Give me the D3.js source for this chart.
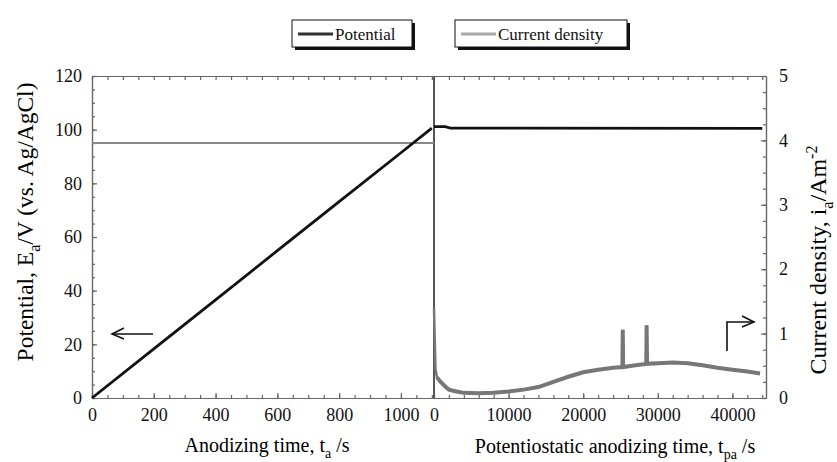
<!DOCTYPE html>
<html>
<head>
<meta charset="utf-8">
<script src="https://cdn.jsdelivr.net/npm/d3@7"></script>
<style>
  body { margin: 0; background: #fff; }
</style>
</head>
<body>
<script>
// galvanostatic part: time (s) vs potential (V) and current density (A/m2)
const galvPotential = [[0, 0], [200, 18.3], [400, 36.6], [600, 54.9], [800, 73.2], [1000, 91.4], [1100, 100.6]];
const galvCurrent = [[0, 3.96], [1107, 3.96]];

// potentiostatic part
const potPotential = [[0, 101.1], [1500, 101.1], [2200, 100.6], [44000, 100.5]];
const potCurrent = [[0, 1.4], [100, 0.9], [200, 0.45], [400, 0.32], [800, 0.26], [1500, 0.18], [2000, 0.13],
  [3000, 0.1], [4000, 0.08], [6000, 0.075], [8000, 0.08], [10000, 0.1], [12000, 0.13], [14000, 0.17],
  [16000, 0.25], [18000, 0.33], [20000, 0.4], [22000, 0.44], [24000, 0.47], [25250, 0.48], [25300, 1.06],
  [25350, 0.48], [27000, 0.51], [28450, 0.53], [28500, 1.13], [28550, 0.53], [30000, 0.54], [32000, 0.55],
  [34000, 0.54], [36000, 0.51], [38000, 0.47], [40000, 0.44], [42000, 0.41], [43700, 0.38]];

const leftXTicks = [0, 200, 400, 600, 800, 1000];
const rightXTicks = [0, 10000, 20000, 30000, 40000];
const potTicks = [0, 20, 40, 60, 80, 100, 120];
const curTicks = [0, 1, 2, 3, 4, 5];

const FONT = "Liberation Serif";

function main() {
  const W = 837, H = 462;
  const left = 92, mid = 434, right = 766, top = 76, bottom = 398;

  const svg = d3.select("body").append("svg")
    .attr("width", W).attr("height", H)
    .attr("font-family", FONT);

  const xa = d3.scaleLinear().domain([0, 1107]).range([left, mid]);
  const xb = d3.scaleLinear().domain([0, 44500]).range([mid, right]);
  const yV = d3.scaleLinear().domain([0, 120]).range([bottom, top]);
  const yI = d3.scaleLinear().domain([0, 5]).range([bottom, top]);

  const axisColor = "#666";
  const fmt = d3.format("d");
  function style(g) {
    g.attr("font-family", FONT);
    g.select(".domain").attr("stroke", axisColor).attr("stroke-width", 1.2);
    g.selectAll(".tick line").attr("stroke", axisColor).attr("stroke-width", 1.2);
    g.selectAll(".tick text").attr("font-size", 18).attr("fill", "#111").attr("font-family", FONT);
  }

  // bottom axes
  svg.append("g").attr("transform", `translate(0,${bottom})`)
    .call(d3.axisBottom(xa).tickValues(d3.range(0, 1101, 50)).tickFormat("").tickSize(-3).tickSizeOuter(0)).call(style);
  svg.append("g").attr("transform", `translate(0,${bottom})`)
    .call(d3.axisBottom(xa).tickValues(leftXTicks).tickFormat(fmt).tickSize(-5).tickSizeOuter(0).tickPadding(10)).call(style);
  svg.append("g").attr("transform", `translate(0,${bottom})`)
    .call(d3.axisBottom(xb).tickValues(d3.range(0, 44001, 2000)).tickFormat("").tickSize(-3).tickSizeOuter(0)).call(style);
  svg.append("g").attr("transform", `translate(0,${bottom})`)
    .call(d3.axisBottom(xb).tickValues(rightXTicks).tickFormat(fmt).tickSize(-5).tickSizeOuter(0).tickPadding(10)).call(style);

  // top axes
  svg.append("g").attr("transform", `translate(0,${top})`)
    .call(d3.axisTop(xa).tickValues(d3.range(0, 1101, 50)).tickFormat("").tickSize(-4).tickSizeOuter(0)).call(style);
  svg.append("g").attr("transform", `translate(0,${top})`)
    .call(d3.axisTop(xb).tickValues(d3.range(0, 44001, 2000)).tickFormat("").tickSize(-4).tickSizeOuter(0)).call(style);

  // left axis
  svg.append("g").attr("transform", `translate(${left},0)`)
    .call(d3.axisLeft(yV).tickValues(d3.range(0, 121, 5)).tickFormat("").tickSize(-3).tickSizeOuter(0)).call(style);
  svg.append("g").attr("transform", `translate(${left},0)`)
    .call(d3.axisLeft(yV).tickValues(potTicks).tickFormat(fmt).tickSize(-5).tickSizeOuter(0).tickPadding(10)).call(style);

  // right axis
  svg.append("g").attr("transform", `translate(${right},0)`)
    .call(d3.axisRight(yI).tickValues(d3.range(0, 5.01, 0.25)).tickFormat("").tickSize(-3).tickSizeOuter(0)).call(style);
  svg.append("g").attr("transform", `translate(${right},0)`)
    .call(d3.axisRight(yI).tickValues(curTicks).tickFormat(fmt).tickSize(-5).tickSizeOuter(0).tickPadding(13)).call(style);

  // divider between both parts
  svg.append("line")
    .attr("x1", mid).attr("x2", mid).attr("y1", top).attr("y2", bottom)
    .attr("stroke", "#555").attr("stroke-width", 2);

  const lineV = sx => d3.line().x(d => sx(d[0])).y(d => yV(d[1]));
  const lineI = sx => d3.line().x(d => sx(d[0])).y(d => yI(d[1]));

  svg.append("path").datum(galvCurrent).attr("d", lineI(xa))
    .attr("fill", "none").attr("stroke", "#888").attr("stroke-width", 2);
  svg.append("path").datum(potCurrent).attr("d", lineI(xb))
    .attr("fill", "none").attr("stroke", "#777").attr("stroke-width", 2.5);
  svg.append("path").datum(potCurrent.filter(d => d[0] >= 400)).attr("d", lineI(xb))
    .attr("fill", "none").attr("stroke", "#777").attr("stroke-width", 4);

  svg.append("path").datum(galvPotential).attr("d", lineV(xa))
    .attr("fill", "none").attr("stroke", "#111").attr("stroke-width", 2.8);
  svg.append("path").datum(potPotential).attr("d", lineV(xb))
    .attr("fill", "none").attr("stroke", "#111").attr("stroke-width", 2.8);

  // arrows
  const arrow = svg.append("g").attr("stroke", "#111").attr("stroke-width", 1.6).attr("fill", "none");
  arrow.append("line").attr("x1", 112).attr("x2", 153).attr("y1", 334).attr("y2", 334);
  arrow.append("path").attr("d", "M124,328 L112,334 L124,339");
  arrow.append("path").attr("d", "M727,351 L727,322 L754,322");
  arrow.append("path").attr("d", "M742,316 L754,322 L742,327");

  // axis titles
  const bt = svg.append("text").attr("x", 267).attr("y", 452).attr("text-anchor", "middle")
    .attr("font-size", 20).attr("font-family", FONT);
  bt.append("tspan").text("Anodizing time, t");
  bt.append("tspan").attr("dy", 6).attr("font-size", 14).text("a");
  bt.append("tspan").attr("dy", -6).text(" /s");

  const bt2 = svg.append("text").attr("x", 615).attr("y", 453).attr("text-anchor", "middle")
    .attr("font-size", 20).attr("font-family", FONT);
  bt2.append("tspan").text("Potentiostatic anodizing time, t");
  bt2.append("tspan").attr("dy", 6).attr("font-size", 14).text("pa");
  bt2.append("tspan").attr("dy", -6).text(" /s");

  const lt = svg.append("text").attr("transform", "translate(33,222) rotate(-90)")
    .attr("text-anchor", "middle").attr("font-size", 23.5).attr("font-family", FONT);
  lt.append("tspan").text("Potential, E");
  lt.append("tspan").attr("dy", 7).attr("font-size", 16).text("a");
  lt.append("tspan").attr("dy", -7).text("/V (vs. Ag/AgCl)");

  const rt = svg.append("text").attr("transform", "translate(826,260) rotate(-90)")
    .attr("text-anchor", "middle").attr("font-size", 24).attr("font-family", FONT);
  rt.append("tspan").text("Current density, i");
  rt.append("tspan").attr("dy", 7).attr("font-size", 16).text("a");
  rt.append("tspan").attr("dy", -7).text("/Am");
  rt.append("tspan").attr("dy", -9).attr("font-size", 16).text("-2");

  // legend
  const legend = [
    {label: "Potential", color: "#333", x: 292, w: 120},
    {label: "Current density", color: "#aaa", x: 455, w: 172}
  ];
  const lg = svg.append("g").selectAll("g").data(legend).join("g")
    .attr("transform", d => `translate(${d.x},20)`);
  lg.append("rect").attr("x", 3).attr("y", 3).attr("width", d => d.w).attr("height", 27).attr("fill", "#111");
  lg.append("rect").attr("width", d => d.w).attr("height", 27).attr("fill", "#fff").attr("stroke", "#111");
  lg.append("line").attr("x1", 6).attr("x2", 41).attr("y1", 14).attr("y2", 14)
    .attr("stroke", d => d.color).attr("stroke-width", 3);
  lg.append("text").attr("x", 43).attr("y", 20).attr("font-size", 17).attr("fill", "#111")
    .attr("font-family", FONT).text(d => d.label);
}

window.addEventListener("load", main);
</script>
</body>
</html>
